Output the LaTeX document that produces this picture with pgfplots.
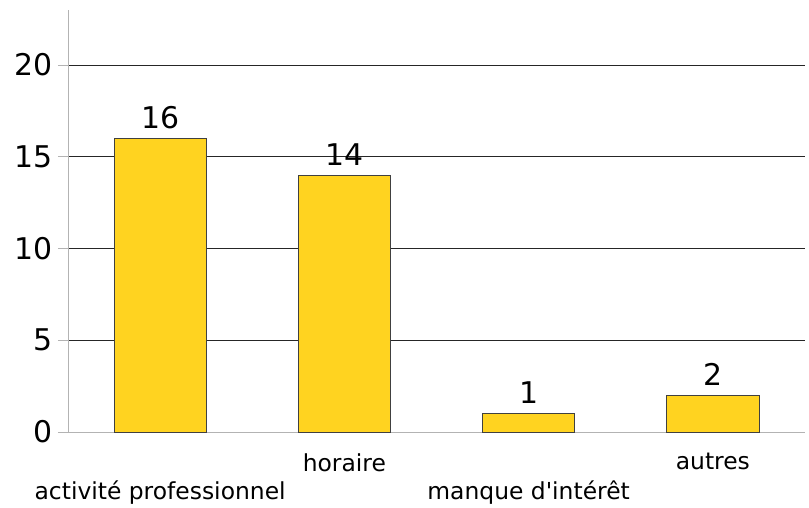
\documentclass[border=0pt]{standalone}
\usepackage{fontspec}
\setmainfont{DejaVu Sans}
\usepackage{pgfplots}
\pgfplotsset{compat=1.18}
\definecolor{barYellow}{HTML}{FFD320}
\definecolor{axisGray}{HTML}{B3B3B3}

\begin{document}
\begin{tikzpicture}
  \path[use as bounding box] (-68bp,-76bp) rectangle (741bp,432bp);
  \begin{axis}[
    at={(0,0)},anchor=south west,
    scale only axis,
    width=737bp,height=422bp,
    xmin=-0.5,xmax=3.5,
    ymin=0,ymax=23,
    axis x line=bottom,axis y line=left,
    axis line style={axisGray,line width=0.8bp,-},
    ytick={0,5,10,15,20},
    ymajorgrids,
    grid style={black!85,line width=0.7bp},
    xtick={0,1,2,3},
    xticklabels={\strut\\activité professionnel,horaire,\strut\\manque d\textquotesingle intérêt,autres},
    xticklabel style={font=\fontsize{23.5}{27}\selectfont,align=center,anchor=north,yshift=-8bp},
    minor xtick={-0.5,0.5,1.5,2.5,3.5},
    xtick style={draw=none},
    minor x tick style={axisGray,line width=0.8bp},
    minor tick length=10bp,
    ytick style={axisGray,line width=0.8bp},
    major tick length=10bp,
    y tick label style={font=\fontsize{30}{32}\selectfont,xshift=-2bp},
    /pgf/number format/assume math mode=true,
    tick align=outside,
    ybar,bar width=0.5,
    nodes near coords,
    nodes near coords style={font=\fontsize{30}{32}\selectfont,yshift=6bp},
  ]
    \addplot[fill=barYellow,draw=black!75,line width=0.7bp]
      coordinates {(0,16) (1,14) (2,1) (3,2)};
  \end{axis}
\end{tikzpicture}
\end{document}
